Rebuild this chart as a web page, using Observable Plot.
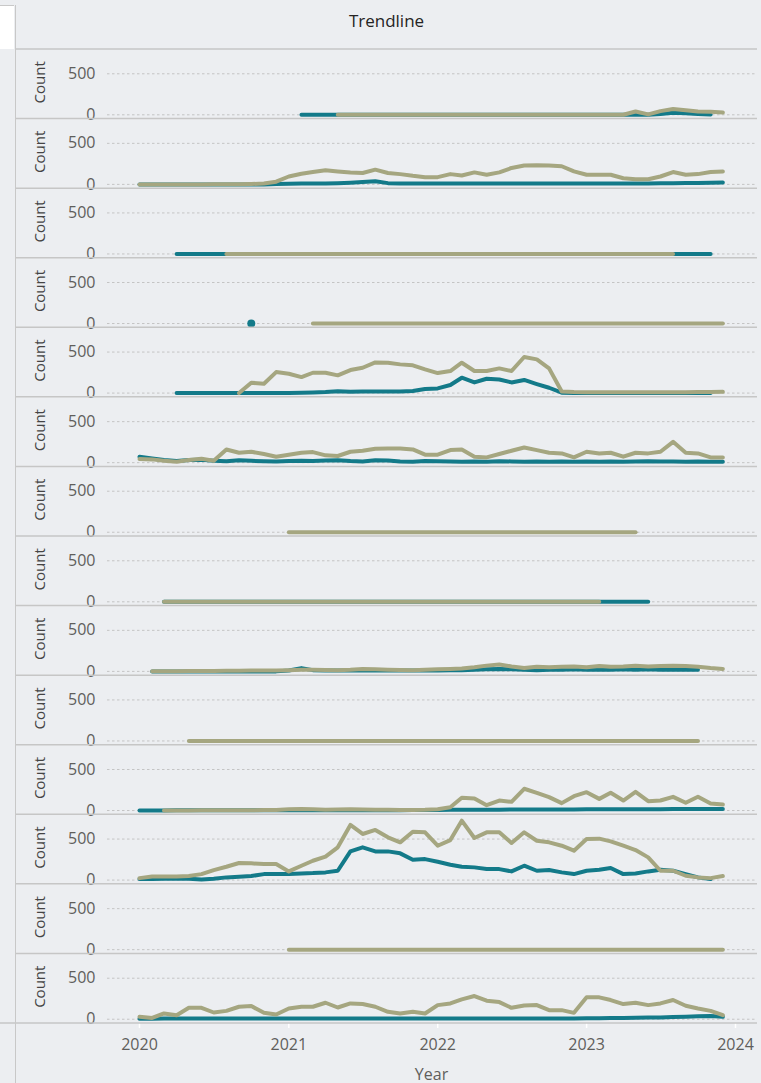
<!DOCTYPE html>
<html>
<head>
<meta charset="utf-8">
<script src="https://cdn.jsdelivr.net/npm/d3@7"></script>
<script src="https://cdn.jsdelivr.net/npm/@observablehq/plot@0.6"></script>
<style>
  html, body { margin: 0; padding: 0; background: #eceef1; }
  #wrap { position: relative; width: 761px; height: 1083px; overflow: hidden; background: #eceef1; font-family: "Open Sans", "Noto Sans", sans-serif; }
  #corner { position: absolute; left: 0; top: 5px; width: 14px; height: 43px; background: #ffffff; border-top: 1.5px solid #c8c8c8; }
  #vline { position: absolute; left: 14.5px; top: 5px; width: 1.5px; height: 1078px; background: #c8c8c8; }
  #header { position: absolute; left: 16px; top: 0; width: 741px; height: 49px; display: flex; align-items: center; justify-content: center; padding-bottom: 8px; box-sizing: border-box; font-size: 17px; color: #252423; }
  #chart { position: absolute; left: 0; top: 49px; }
</style>
</head>
<body>
<div id="wrap">
  <div id="corner"></div>
  <div id="header">Trendline</div>
  <div id="chart"></div>
  <div id="vline"></div>
</div>
<script>
// ---- categories / labels ----
const rowKeys = ["R01","R02","R03","R04","R05","R06","R07","R08","R09","R10","R11","R12","R13","R14"];
const seriesNames = ["Series A", "Series B"];
const seriesColors = ["#137a89", "#a5a680"];
const yearTicks = ["2020","2021","2022","2023","2024"];
const yTicks = [0, 500];
const firstMonth = "2020-01"; // month index 0

// ---- values: [start month index, monthly counts...] ----
const r01A = [13, 0,0,0,0,0,0,0,0,0,0,0,0,0,0,0,0,0,0,0,0,0,0,0,0,0,0,0,0,0, 10,24,18,10,5];
const r01B = [16, 0,0,0,0,0,0,0,0,0,0,0,0,0,0,0,0,0,0,0,0,0,0,0,0, 40,5,45,70,55,40,38,28];

const r02A = [0, 0,0,0,0,0,0,0,0,0,0,0, 5,8,10,10,12,15,20,28,38,15,10,10,10,10,12,12,12,12,12,12,12,12,12,12,12,12,12,12,12,12,12,14,15,16,18,20,22];
const r02B = [0, 0,0,0,0,0,0,2,2,3,5,10, 33,96,129,150,171,158,146,138,179,138,125,104,88,88,125,108,146,117,146,200,229,233,229,221,158,117,117,117,75,63,63,96,150,117,125,150,158];

const r03A = [3, 0,0,0,0,0,0,0,0,0,0,0,0,0,0,0,0,0,0,0,0,0,0,0,0,0,0,0,0,0,0,0,0,0,0,0,0,0,0,0,0,0,0,0,0];
const r03B = [7, 0,0,0,0,0,0,0,0,0,0,0,0,0,0,0,0,0,0,0,0,0,0,0,0,0,0,0,0,0,0,0,0,0,0,0,0,0];

const r04A = [9, 0];
const r04B = [14, 0,0,0,0,0,0,0,0,0,0,0,0,0,0,0,0,0,0,0,0,0,0,0,0,0,0,0,0,0,0,0,0,0,0];

const r05A = [3, 0,0,0,0,0,0,0,0,0, 2,5,8,12,22,15,18,20,20,18,25,50,57,98,187,130,175,165,130,160,110,65,5, 0,0,0,0,0,0,0,0,0,0,0,0];
const r05B = [8, 0,126,114,256,236,195,248,248,216,281,309,374,370,350,338,289,244,269,370,269,269,301,269,440,411,301,20, 12,10,10,10,10,10,10,10,10,10,12,12,15];

const r06A = [0, 72,52,32,20,32,35,24,18,28,22,18,15, 20,22,20,25,30,20,15,30,25,15,12,20, 18,15,12,15,12,18,15,12,15,12,15,12, 15,12,15,12,15,18,15,15,12,15,12,12];
const r06B = [0, 44,40,24,12,32,48,24,161,121,133,105,73, 97,121,129,89,81,133,145,169,173,173,161,97, 97,153,161,73,64,105,145,185,153,121,113,64, 133,113,121,73,121,113,133,254,121,113,64,64];

const r07A = [0];
const r07B = [12, 0,0,0,0,0,0,0,0,0,0,0,0,0,0,0,0,0,0,0,0,0,0,0,0,0,0,0,0,0];

const r08A = [2, 0,0,0,0,0,0,0,0,0,0,0,0,0,0,0,0,0,0,0,0,0,0,0,0,0,0,0,0,0,0,0,0,0,0,0,0,0,0,0,0];
const r08B = [2, 0,0,0,0,0,0,0,0,0,0,0,0,0,0,0,0,0,0,0,0,0,0,0,0,0,0,0,0,0,0,0,0,0,0,0,0];

const r09A = [1, 0,0,0,0,0,0,0,0,0,0,0, 10,40,15,10,10,10,10,10,10,10,10,10,10, 15,15,20,25,30,25,20,15,20,20,25,20, 20,20,25,20,25,20,20,20,20];
const r09B = [1, 2,2,3,5,5,5,8,8,10,10,12, 15,20,20,18,15,20,30,25,20,18,15,20,25, 30,35,50,70,85,60,40,55,50,55,60,50, 65,55,60,70,60,65,70,65,55,40,30];

const r10A = [0];
const r10B = [4, 0,0,0,0,0,0,0,0,0,0,0,0,0,0,0,0,0,0,0,0,0,0,0,0,0,0,0,0,0,0,0,0,0,0,0,0,0,0,0,0,0,0];

const r11A = [0, 0,0,0,2,2,2,2,3,3,3,3,3, 4,4,4,4,4,4,4,4,4,4,5,5, 6,8,10,10,10,10,12,12,12,12,12,12, 14,14,15,15,16,16,16,18,18,20,20,20];
const r11B = [2, 0,0,0,2,2,3,3,4,5,5, 15,18,15,10,12,15,12,10,8,5,5,8, 15,40,155,147,65,122,106,265,216,163,90,175, 224,142,216,122,228,114,122,167,94,167,85,73];

const r12A = [0, 12,12,16,16,16,8,16,33,41,49,73,73, 73,81,85,94,114,350,399,350,350,326,248,256, 224,187,163,155,134,134,106,175,114,122,94,73, 114,126,147,73,81,106,126,114,73,33,12];
const r12B = [0, 24,45,45,45,49,73,122,163,208,204,195,195, 106,175,236,285,399,672,562,611,521,460,590,582, 419,488,724,513,582,582,452,582,480,460,419,358, 501,505,472,419,366,277,114,114,53,33,24,49];

const r13A = [0];
const r13B = [12, 0,0,0,0,0,0,0,0,0,0,0,0,0,0,0,0,0,0,0,0,0,0,0,0,0,0,0,0,0,0,0,0,0,0,0,0];

const r14A = [0, 5,5,8,8,8,8,8,8,8,8,8,8, 8,8,8,8,8,8,8,8,8,8,8,8, 8,8,8,8,8,8,10,10,10,10,10,10, 12,12,15,15,18,20,22,28,30,35,40,30];
const r14B = [0, 29,16,70,49,139,139,82,102,152,160,78,57, 131,152,152,201,143,193,185,152,90,70,90,70, 172,193,242,283,226,209,139,168,172,111,111,78, 267,267,234,185,201,172,193,234,164,131,102,49];

const seriesA = [r01A,r02A,r03A,r04A,r05A,r06A,r07A,r08A,r09A,r10A,r11A,r12A,r13A,r14A];
const seriesB = [r01B,r02B,r03B,r04B,r05B,r06B,r07B,r08B,r09B,r10B,r11B,r12B,r13B,r14B];

// ---- build tidy table ----
const t0 = d3.utcParse("%Y-%m")(firstMonth);
function toRows(arr, row, series) {
  const start = arr[0];
  return arr.slice(1).map((v, i) => ({row, series, date: d3.utcMonth.offset(t0, start + i), value: v}));
}
const dataA = [], dataB = [];
rowKeys.forEach((k, i) => {
  dataA.push(...toRows(seriesA[i], k, seriesNames[0]));
  dataB.push(...toRows(seriesB[i], k, seriesNames[1]));
});
const all = dataA.concat(dataB);
// isolated points (series with a single value in a row) are drawn as dots
const counts = d3.rollup(all, v => v.length, d => d.row, d => d.series);
const singles = all.filter(d => counts.get(d.row).get(d.series) === 1);

const parseY = d3.utcParse("%Y");
const xTicks = yearTicks.map(parseY);

const fontFam = '"Open Sans", "Noto Sans", sans-serif';

const chart = Plot.plot({
  width: 761,
  height: 1034,
  marginLeft: 107,
  marginRight: 6,
  marginTop: 0,
  marginBottom: 60,
  style: { background: "transparent", fontFamily: fontFam, fontSize: "16px", color: "#605e5c", overflow: "visible" },
  x: { type: "utc", domain: [xTicks[0], xTicks[xTicks.length - 1]], range: [139, 735] },
  y: { domain: [-52, 796] },
  fy: { domain: rowKeys, padding: 0, round: false, axis: null },
  color: { domain: seriesNames, range: seriesColors },
  marks: [
    Plot.gridY(yTicks, { stroke: "#c4c4c4", strokeOpacity: 1, strokeWidth: 1, strokeDasharray: "2.5,2.5" }),
    Plot.axisY(yTicks, { tickSize: 0, tickPadding: 12, label: null, fill: "#605e5c", fontSize: 16 }),
    Plot.text(rowKeys, { fy: d => d, text: () => "Count", frameAnchor: "left", dx: -67, dy: -2, rotate: -90, textAnchor: "middle", lineAnchor: "middle", fill: "#444", fontSize: 15 }),
    Plot.line(dataA, { x: "date", y: "value", fy: "row", stroke: "series", strokeWidth: 4, strokeLinejoin: "round", strokeLinecap: "round" }),
    Plot.line(dataB, { x: "date", y: "value", fy: "row", stroke: "series", strokeWidth: 4, strokeLinejoin: "round", strokeLinecap: "round" }),
    Plot.dot(singles, { x: "date", y: "value", fy: "row", fill: "series", r: 4 }),
    Plot.axisX(xTicks, { tickSize: 5, stroke: "#ffffff", strokeWidth: 1.5, text: null, label: null }),
    Plot.axisX(xTicks, { tickSize: 0, tickPadding: 15, tickFormat: d3.utcFormat("%Y"), fill: "#605e5c", fontSize: 16,
      label: "Year", labelAnchor: "center", labelArrow: "none", labelOffset: 56 })
  ]
});

document.getElementById("chart").appendChild(chart);

// row separators drawn on the facet band edges
const fyDesc = chart.scale("fy");
const band = d3.scaleBand(fyDesc.domain, fyDesc.range).paddingInner(fyDesc.paddingInner || 0).paddingOuter(fyDesc.paddingOuter || 0).round(!!fyDesc.round);
const sel = d3.select(chart);
const edges = [band(rowKeys[0])].concat(rowKeys.map(k => band(k) + band.bandwidth()));
sel.append("g").selectAll("line").data(edges).join("line")
  .attr("x1", (d, i) => (i === edges.length - 1 ? 0 : 15))
  .attr("x2", 757)
  .attr("y1", d => d).attr("y2", d => d)
  .attr("stroke", "#c6c6c6").attr("stroke-width", 1.5);
</script>
</body>
</html>
